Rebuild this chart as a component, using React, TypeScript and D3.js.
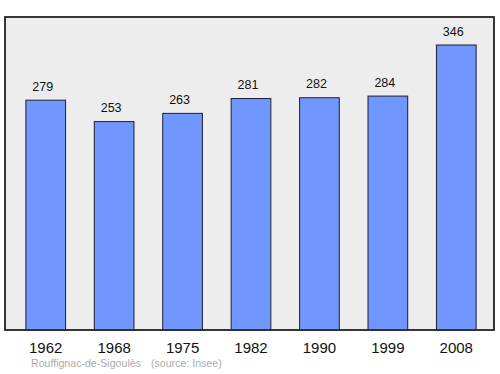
import React from "react";
import * as d3 from "d3";

const years = ["1962", "1968", "1975", "1982", "1990", "1999", "2008"];
const population = [279, 253, 263, 281, 282, 284, 346];
const sourceLabel = "Rouffignac-de-Sigoulès";
const sourceNote = "(source: Insee)";

export default function App() {
  const W = 500, H = 374;
  const frame = { x0: 5, y0: 17, x1: 494, y1: 330 };
  const x = d3.scaleBand<string>().domain(years).range([11.5, 490.5]).paddingInner(0.42).paddingOuter(0.21);
  const y = d3.scaleLinear().domain([0, 380]).range([frame.y1, frame.y0]);
  const font = "Liberation Sans, Arial, sans-serif";
  return (
    <svg width={W} height={H} style={{ position: "absolute", left: 0, top: 0 }}>
      <rect x={0} y={0} width={W} height={H} fill="#ffffff" />
      <rect x={frame.x0} y={frame.y0} width={frame.x1 - frame.x0} height={frame.y1 - frame.y0} fill="#ededed" stroke="#2a2a2a" strokeWidth={1.5} />
      {years.map((yr, i) => {
        const v = population[i];
        const bx = x(yr)!;
        return (
          <g key={yr}>
            <rect x={bx} y={y(v)} width={x.bandwidth()} height={frame.y1 - y(v)} fill="#7096ff" stroke="#1f1f2e" strokeWidth={1} />
            <text x={bx + x.bandwidth() / 2 - 3} y={y(v) - 9.5} textAnchor="middle" fontFamily={font} fontSize={12.5} fill="#111">{v}</text>
            <text x={bx + x.bandwidth() / 2} y={352.5} textAnchor="middle" fontFamily={font} fontSize={15} fill="#111">{yr}</text>
          </g>
        );
      })}
      <text x={31} y={366.5} fontFamily={font} fontSize={10.6} fill="#ababab">{sourceLabel}</text>
      <text x={151} y={366.5} fontFamily={font} fontSize={10.6} fill="#ababab">{sourceNote}</text>
      <rect x={frame.x0} y={frame.y0} width={frame.x1 - frame.x0} height={frame.y1 - frame.y0} fill="none" stroke="#2a2a2a" strokeWidth={1.5} />
    </svg>
  );
}
